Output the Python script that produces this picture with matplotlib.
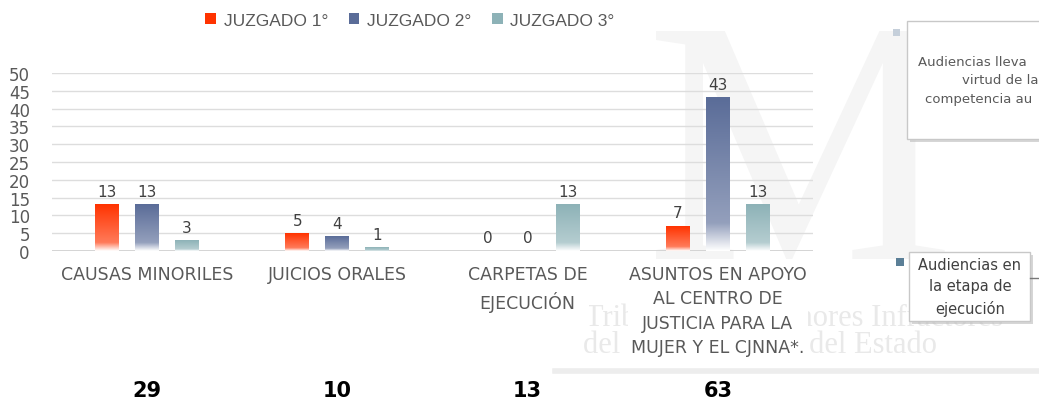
import numpy as np
import matplotlib
matplotlib.use('Agg')
import matplotlib.pyplot as plt
import matplotlib.transforms as mtransforms
from matplotlib.patches import Rectangle, Patch

categorias = ['CAUSAS MINORILES', 'JUICIOS ORALES', 'CARPETAS DE\nEJECUCIÓN',
              'ASUNTOS EN APOYO\nAL CENTRO DE\nJUSTICIA PARA LA\nMUJER Y EL CJNNA*.']
series = ['JUZGADO 1°', 'JUZGADO 2°', 'JUZGADO 3°']
juzgado1 = [13, 5, 0, 7]
juzgado2 = [13, 4, 0, 43]
juzgado3 = [3, 1, 13, 13]
totales = [29, 10, 13, 63]
colores = ['#FF3300', '#5A6C98', '#8DB2B7']

W, H = 1039, 402
fig = plt.figure(figsize=(W / 100, H / 100), dpi=100)
fig.patch.set_facecolor('white')

def fx(x):
    return x / W

def fy(y):
    return 1 - y / H

narrow = ['Liberation Sans Narrow', 'DejaVu Sans']
serif = ['Liberation Serif', 'DejaVu Serif']

# marca de agua en un eje de fondo
bg = fig.add_axes([0, 0, 1, 1], zorder=-1)
bg.axis('off')
bg.set_xlim(0, W)
bg.set_ylim(H, 0)
bg.text(800, 175, 'M', family=serif, fontsize=250, color='#F5F5F5',
        ha='center', va='center')
bg.text(585, 318, 'Tribunal para Menores Infractores', family=serif,
        fontsize=22, color='#E9E9E9', ha='left', va='center')
bg.text(583, 346, 'del Poder Judicial del Estado', family=serif,
        fontsize=22, color='#E9E9E9', ha='left', va='center')
bg.plot([555, W], [372, 372], color='#EDEDED', lw=4)

ax = fig.add_axes([fx(52), fy(252), fx(813 - 52), (252 - 74) / H], zorder=1)
ax.patch.set_alpha(0)
for s in ax.spines.values():
    s.set_visible(False)

def gradiente(c):
    c = np.array(matplotlib.colors.to_rgb(c))
    w = np.ones(3)
    t = np.linspace(0, 1, 200)
    img = np.zeros((200, 1, 3))
    for i, v in enumerate(t):
        if v < 0.18:
            k = v / 0.18
            col = w * (1 - k) + (0.65 * c + 0.35 * w) * k
        else:
            k = (v - 0.18) / 0.82
            col = (0.65 * c + 0.35 * w) * (1 - k) + c * k
        img[i, 0] = col
    return img

datos = [juzgado1, juzgado2, juzgado3]
offs = [-0.21, 0, 0.21]
ancho = 0.126
x = np.arange(len(categorias))
for vals, off, col in zip(datos, offs, colores):
    g = gradiente(col)
    for xi, v in zip(x, vals):
        if v > 0:
            ax.imshow(g, origin='lower', aspect='auto', zorder=3,
                      extent=[xi + off - ancho / 2, xi + off + ancho / 2, 0, v])
        ax.text(xi + off, v + 1.6, str(v), ha='center', va='bottom',
                fontsize=11, color='#404040', zorder=4)

ax.set_xlim(-0.5, 3.5)
ax.set_ylim(0, 50)
ax.set_yticks(range(0, 51, 5))
ax.set_xticks([])
ax.grid(axis='y', color='#DDDDDD', lw=1, zorder=0)
ax.tick_params(axis='y', length=0, pad=16, labelsize=12, labelcolor='#595959')
ax.axhline(0, color='#CFCFCF', lw=1.2, zorder=2)

trans = mtransforms.blended_transform_factory(ax.transData, fig.transFigure)
for xi, cat, tot in zip(x, categorias, totales):
    ax.text(xi, fy(266), cat, transform=trans, ha='center', va='top',
            family=narrow, fontsize=12.5, color='#595959', linespacing=1.45,
            bbox=dict(facecolor='white', edgecolor='none', pad=1), zorder=5)
    ax.text(xi, fy(391), str(tot), transform=trans, ha='center', va='center',
            family=narrow, fontsize=15, fontweight='bold', color='black')

handles = [Patch(facecolor=c, edgecolor='none') for c in colores]
fig.legend(handles, series, loc='center', bbox_to_anchor=(fx(410), fy(21)),
           ncol=3, frameon=False, labelcolor='#595959',
           handlelength=0.6, handleheight=0.6, handletextpad=0.45,
           columnspacing=1.2, prop={'family': ['Liberation Sans', 'DejaVu Sans'], 'size': 12.5})

# cuadros laterales
def cuadro(x0, y0, x1, y1):
    fig.add_artist(Rectangle((fx(x0 + 3), fy(y1 + 3)), fx(x1 - x0), (y1 - y0) / H,
                             transform=fig.transFigure, facecolor='#BBBBBB',
                             edgecolor='none', alpha=0.6, zorder=6))
    fig.add_artist(Rectangle((fx(x0), fy(y1)), fx(x1 - x0), (y1 - y0) / H,
                             transform=fig.transFigure, facecolor='white',
                             edgecolor='#C8C8C8', lw=1, zorder=7))

cuadro(907, 22, 1045, 140)
fig.add_artist(Rectangle((fx(893), fy(37)), fx(7), 7 / H, transform=fig.transFigure,
                         facecolor='#C5CFDA', edgecolor='none', zorder=7))
for xx, y, t in zip([918, 962, 925], [62, 81, 100],
                    ['Audiencias lleva', 'virtud de la', 'competencia au']):
    fig.text(fx(xx), fy(y), t, ha='left', va='center', fontsize=9.5,
             color='#595959', zorder=8)

cuadro(909, 253, 1030, 322)
fig.add_artist(Rectangle((fx(896), fy(267)), fx(8), 8 / H, transform=fig.transFigure,
                         facecolor='#5B7F97', edgecolor='none', zorder=7))
for y, t in zip([265, 287, 309], ['Audiencias en', 'la etapa de', 'ejecución']):
    fig.text(fx(970), fy(y), t, ha='center', va='center', fontsize=10.5,
             color='#404040', zorder=8)
fig.add_artist(plt.Line2D([fx(1030), 1], [fy(279), fy(279)], color='#777777',
                          lw=1, transform=fig.transFigure, zorder=8))

fig.savefig('out.png', dpi=100)
